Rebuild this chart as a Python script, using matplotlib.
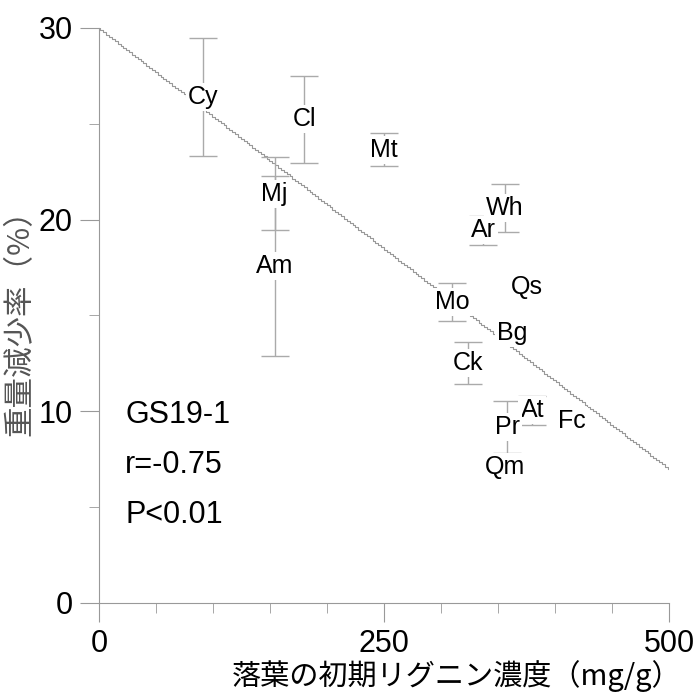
import matplotlib.pyplot as plt
import numpy as np
from matplotlib.ticker import MultipleLocator

plt.rcParams['font.family'] = ['Liberation Sans', 'Noto Sans CJK JP']

species = ['Cy', 'Cl', 'Mt', 'Mj', 'Am', 'Wh', 'Ar', 'Qs', 'Mo', 'Bg', 'Ck', 'At', 'Pr', 'Fc', 'Qm']
lignin = [91, 180, 250, 154, 154, 356, 337, 375, 310, 362, 324, 380, 358, 415, 356]
mass_loss = [26.4, 25.25, 23.65, 21.35, 17.6, 20.6, 19.45, 16.5, 15.7, 14.1, 12.5, 10.05, 9.2, 9.5, 7.1]
mass_err = [3.1, 2.27, 0.87, 1.9, 4.7, 1.25, 0.75, 0.3, 1.0, 0.3, 1.1, 0.75, 1.35, 0.3, 0.4]

# regression line
intercept = 30.0
slope = -0.046

fig = plt.figure(figsize=(6.94, 6.93), dpi=100)
ax = fig.add_axes([0.1427, 0.1299, 0.8213, 0.8297])

xs = np.linspace(0, 500, 200)
ax.plot(xs, intercept + slope * xs, color='#999999', lw=0.8, drawstyle='steps-mid')

ax.errorbar(lignin, mass_loss, yerr=mass_err, fmt='none', ecolor='#aaaaaa',
            elinewidth=1, capsize=10, capthick=1)
for name, x, y in zip(species, lignin, mass_loss):
    ax.text(x, y, name, ha='center', va='center', fontsize=18,
            bbox=dict(facecolor='white', edgecolor='none', pad=1.5))

ax.text(23, 9.8, 'GS19-1', fontsize=22, va='center')
ax.text(23, 7.2, 'r=-0.75', fontsize=22, va='center')
ax.text(23, 4.6, 'P<0.01', fontsize=22, va='center')

ax.set_xlim(0, 500)
ax.set_ylim(0, 30)
ax.xaxis.set_major_locator(MultipleLocator(250))
ax.xaxis.set_minor_locator(MultipleLocator(50))
ax.yaxis.set_major_locator(MultipleLocator(10))
ax.yaxis.set_minor_locator(MultipleLocator(5))
ax.tick_params(which='major', length=14, color='#999999', labelsize=22, pad=5)
ax.tick_params(which='minor', length=7, color='#999999')
for s in ['top', 'right']:
    ax.spines[s].set_visible(False)
for s in ['left', 'bottom']:
    ax.spines[s].set_color('#999999')

ax.set_xlabel('落葉の初期リグニン濃度（mg/g）', fontsize=21, family='Noto Sans CJK JP')
ax.xaxis.set_label_coords(0.628, -0.1)
ax.set_ylabel('重量減少率（%）', fontsize=22, color='#555555', family='Noto Sans CJK JP')
ax.yaxis.set_label_coords(-0.112, 0.50)

fig.savefig('out.png')
